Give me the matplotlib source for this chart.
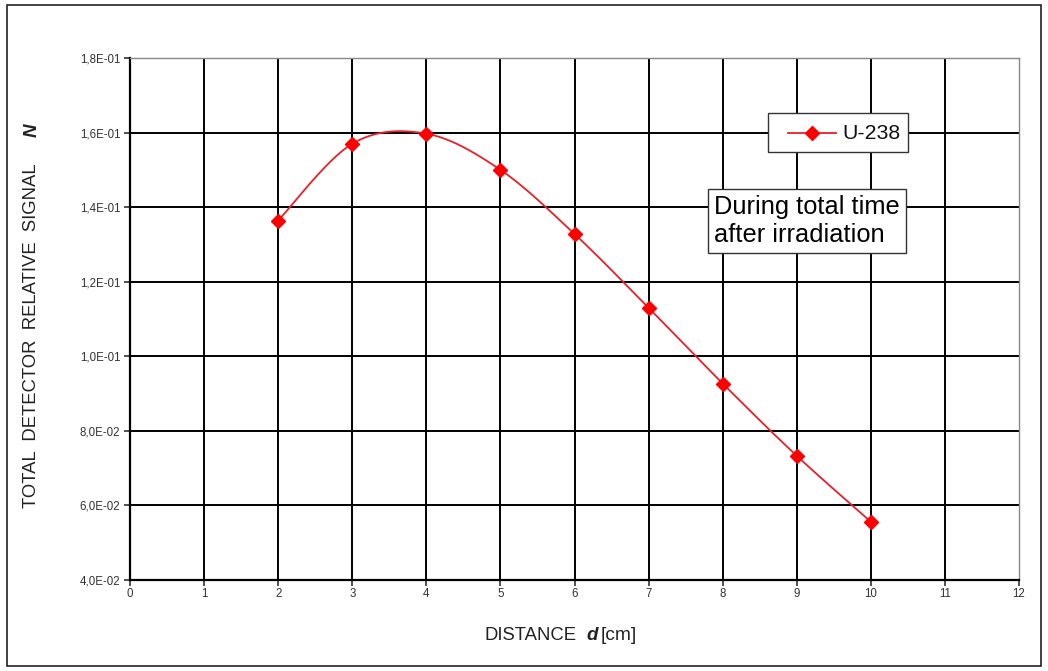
import numpy as np
import matplotlib
matplotlib.use("Agg")
import matplotlib.pyplot as plt
from matplotlib.patches import Rectangle
from matplotlib.lines import Line2D
from matplotlib.ticker import FuncFormatter

plt.rcParams['font.family'] = ['Liberation Sans', 'DejaVu Sans']

# data
distance = [2, 3, 4, 5, 6, 7, 8, 9, 10]
signal = [0.1364, 0.1570, 0.1597, 0.1500, 0.1328, 0.1130, 0.0927, 0.0733, 0.0556]
series_name = "U-238"
note = "During total time\nafter irradiation"


def smooth(x, y, n=40):
    # Excel-like smoothed line: Catmull-Rom segments as cubic Bezier
    x = np.asarray(x, float)
    y = np.asarray(y, float)
    px = np.concatenate([[x[0]], x, [x[-1]]])
    py = np.concatenate([[y[0]], y, [y[-1]]])
    t = np.linspace(0, 1, n)
    xs, ys = [], []
    for i in range(1, len(px) - 2):
        p0 = np.array([px[i], py[i]])
        p3 = np.array([px[i + 1], py[i + 1]])
        p1 = p0 + (p3 - np.array([px[i - 1], py[i - 1]])) / 6
        p2 = p3 - (np.array([px[i + 2], py[i + 2]]) - p0) / 6
        b = ((1 - t) ** 3)[:, None] * p0 + (3 * (1 - t) ** 2 * t)[:, None] * p1 \
            + (3 * (1 - t) * t ** 2)[:, None] * p2 + (t ** 3)[:, None] * p3
        xs.append(b[:, 0])
        ys.append(b[:, 1])
    return np.concatenate(xs), np.concatenate(ys)


fig = plt.figure(figsize=(10.48, 6.71), dpi=100)
W, H = 1048, 671
ax = fig.add_axes([130 / W, 1 - 580 / H, (1019 - 130) / W, (580 - 58) / H])


def fx(px):
    return px / W


def fy(py):
    return 1 - py / H


# outer frame of the chart
fig.patches.append(Rectangle((fx(7), fy(666)), (1041 - 7) / W, (666 - 5) / H,
                             transform=fig.transFigure, fill=False,
                             edgecolor='#222222', linewidth=1.2))

ax.set_xlim(0, 12)
ax.set_ylim(0.04, 0.18)
ax.set_xticks(np.arange(0, 13, 1))
ax.set_yticks(np.arange(0.04, 0.181, 0.02))
ax.yaxis.set_major_formatter(FuncFormatter(
    lambda v, p: ("%.1E" % v).replace(".", ",")))

for xv in range(1, 12):
    ax.axvline(xv, color='black', linewidth=1.4, zorder=1)
for yv in np.arange(0.06, 0.17, 0.02):
    ax.axhline(yv, color='black', linewidth=1.4, zorder=1)

for s in ['left', 'bottom']:
    ax.spines[s].set_linewidth(1.6)
    ax.spines[s].set_color('black')
for s in ['top', 'right']:
    ax.spines[s].set_linewidth(1.0)
    ax.spines[s].set_color('#888888')

ax.tick_params(direction='out', length=4, width=1.2, labelsize=8.3,
               colors='#333333', pad=2)
ax.tick_params(axis='y', pad=3)

sx, sy = smooth(distance, signal)
ax.plot(sx, sy, color='#e8202a', linewidth=1.3, zorder=3)
ax.plot(distance, signal, linestyle='none', marker='D', markersize=7.5,
        color='#ff0000', zorder=4)

# legend box (Excel style: wide left padding before the key)
fig.patches.append(Rectangle((fx(768), fy(152)), (908 - 768) / W, (152 - 113) / H,
                             transform=fig.transFigure, facecolor='white',
                             edgecolor='#333333', linewidth=1.0, zorder=5))
fig.lines.append(Line2D([fx(788), fx(836)], [fy(133), fy(133)],
                        transform=fig.transFigure, color='#e8202a',
                        linewidth=1.3, zorder=6))
fig.lines.append(Line2D([fx(812)], [fy(133)], transform=fig.transFigure,
                        marker='D', markersize=7, color='#ff0000',
                        linestyle='none', zorder=7))
fig.text(fx(842), fy(133.5), series_name, ha='left', va='center',
         fontsize=15.3, color='#111111', zorder=7)

# note box
ax.text(fx(714), fy(221), note, transform=fig.transFigure, fontsize=18.3,
        ha='left', va='center', linespacing=1.25, zorder=5,
        bbox=dict(boxstyle='square,pad=0.24', facecolor='white',
                  edgecolor='#333333', linewidth=1.0))

# axis titles
fig.text(fx(32), fy(336), "TOTAL  DETECTOR  RELATIVE  SIGNAL", rotation=90,
         ha='center', va='center', fontsize=13.3, color='#222222')
fig.text(fx(32), fy(130), "N", rotation=90, ha='center', va='center',
         fontsize=13.5, fontweight='bold', fontstyle='italic', color='#222222')
fig.text(fx(531), fy(636), "DISTANCE", ha='center', va='center',
         fontsize=13.3, color='#222222')
fig.text(fx(592), fy(636), "d", ha='center', va='center', fontsize=13.5,
         fontweight='bold', fontstyle='italic', color='#222222')
fig.text(fx(601), fy(636), "[cm]", ha='left', va='center',
         fontsize=13.8, color='#222222')

fig.savefig("out.png", dpi=100)
